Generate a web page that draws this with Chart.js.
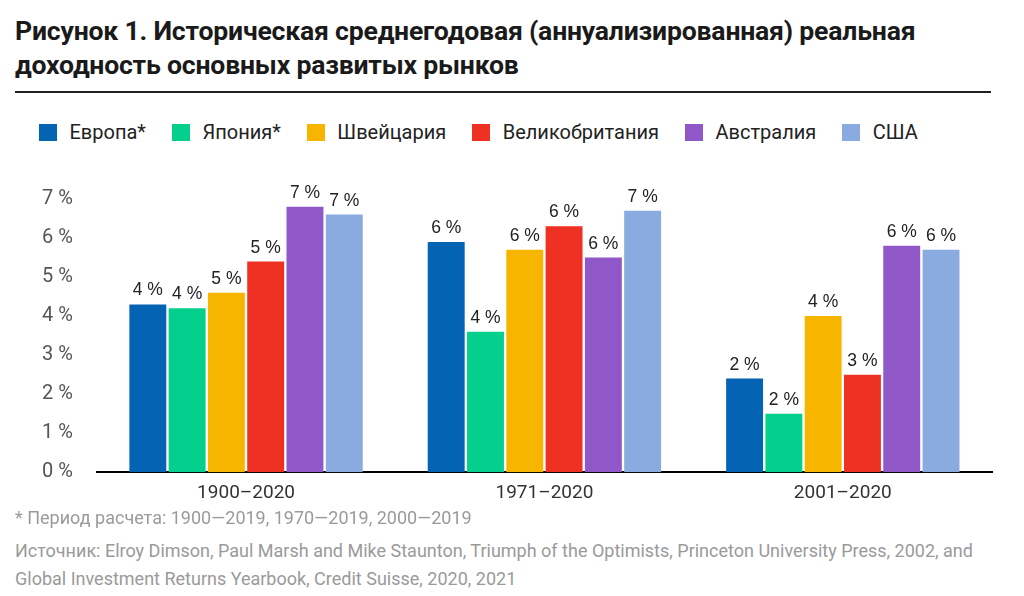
<!DOCTYPE html>
<html>
<head>
<meta charset="utf-8">
<script src="https://cdn.jsdelivr.net/npm/chart.js@4"></script>
<style>
  html, body { margin: 0; padding: 0; background: #fff; }
  body { width: 1024px; height: 596px; position: relative; overflow: hidden; font-family: Roboto, "Noto Sans", sans-serif; }
  #title { position: absolute; left: 15px; top: 14px; width: 1000px; font-weight: 700; font-size: 26.6px; line-height: 34px; color: #1a1a1a; letter-spacing: -0.2px; white-space: nowrap; }
  #rule { position: absolute; left: 15px; top: 91px; width: 976px; height: 2px; background: #222; }
  #legend { position: absolute; left: 39px; top: 121px; height: 22px; display: flex; align-items: center; font-size: 20px; color: #222; white-space: nowrap; }
  .li { display: flex; align-items: center; margin-right: 26px; }
  .sw { width: 18px; height: 17px; margin-right: 12.5px; }
  #wrap { position: absolute; left: 0; top: 162px; width: 1024px; height: 357px; }
  #note { position: absolute; left: 15px; top: 507px; font-size: 18px; color: #9a9a9a; white-space: nowrap; }
  #src { position: absolute; left: 15px; top: 537px; width: 1000px; font-size: 18px; line-height: 28px; color: #9a9a9a; white-space: nowrap; }
</style>
</head>
<body>
<div id="title">Рисунок 1. Историческая среднегодовая (аннуализированная) реальная<br>доходность основных развитых рынков</div>
<div id="rule"></div>
<div id="legend"></div>
<div id="wrap"><canvas id="c"></canvas></div>
<div id="note">* Период расчета: 1900—2019, 1970—2019, 2000—2019</div>
<div id="src">Источник: Elroy Dimson, Paul Marsh and Mike Staunton, Triumph of the Optimists, Princeton University Press, 2002, and<br>Global Investment Returns Yearbook, Credit Suisse, 2020, 2021</div>
<script>
const categories = ["1900–2020", "1971–2020", "2001–2020"];
const seriesNames = ["Европа*", "Япония*", "Швейцария", "Великобритания", "Австралия", "США"];
const europe = [4.3, 5.9, 2.4];
const japan = [4.2, 3.6, 1.5];
const switzerland = [4.6, 5.7, 4.0];
const uk = [5.4, 6.3, 2.5];
const australia = [6.8, 5.5, 5.8];
const usa = [6.6, 6.7, 5.7];
const colors = ["#0563b4", "#05cf8c", "#f7b500", "#ef3124", "#8f57c8", "#8aabe0"];
const yTicks = [0, 1, 2, 3, 4, 5, 6, 7];

const seriesValues = [europe, japan, switzerland, uk, australia, usa];

// HTML legend
const lg = document.getElementById('legend');
seriesNames.forEach((n, i) => {
  const d = document.createElement('div'); d.className = 'li';
  const s = document.createElement('div'); s.className = 'sw'; s.style.background = colors[i];
  const t = document.createElement('span'); t.textContent = n;
  d.appendChild(s); d.appendChild(t); lg.appendChild(d);
});

const valueLabels = {
  id: 'valueLabels',
  afterDatasetsDraw(chart) {
    const ctx = chart.ctx;
    ctx.save();
    ctx.font = '17.5px "Liberation Sans", Arial, sans-serif';
    ctx.fillStyle = '#222';
    ctx.textAlign = 'center';
    ctx.textBaseline = 'bottom';
    chart.data.datasets.forEach((ds, di) => {
      const meta = chart.getDatasetMeta(di);
      meta.data.forEach((el, i) => {
        ctx.fillText(Math.round(ds.data[i]) + ' %', el.x, el.y - 5);
      });
    });
    ctx.restore();
  }
};

new Chart(document.getElementById('c'), {
  type: 'bar',
  data: {
    labels: categories,
    datasets: seriesNames.map((n, i) => ({
      label: n,
      data: seriesValues[i],
      backgroundColor: colors[i],
      categoryPercentage: 0.79,
      barPercentage: 0.94
    }))
  },
  options: {
    responsive: true,
    maintainAspectRatio: false,
    animation: false,
    layout: { padding: { left: 18, right: 32, top: 37, bottom: 4 } },
    plugins: { legend: { display: false }, tooltip: { enabled: false } },
    scales: {
      x: {
        grid: { display: false, drawTicks: false },
        border: { display: true, color: '#000', width: 2 },
        ticks: { color: '#333', font: { family: 'Roboto', size: 19 }, padding: 10 }
      },
      y: {
        min: 0, max: 7,
        afterBuildTicks(scale) { scale.ticks = yTicks.map(v => ({ value: v })); },
        grid: { display: false, drawTicks: false },
        border: { display: false },
        ticks: { color: '#555', font: { family: 'Roboto', size: 20 }, padding: 24, callback: v => v + ' %' }
      }
    }
  },
  plugins: [valueLabels]
});
</script>
</body>
</html>
